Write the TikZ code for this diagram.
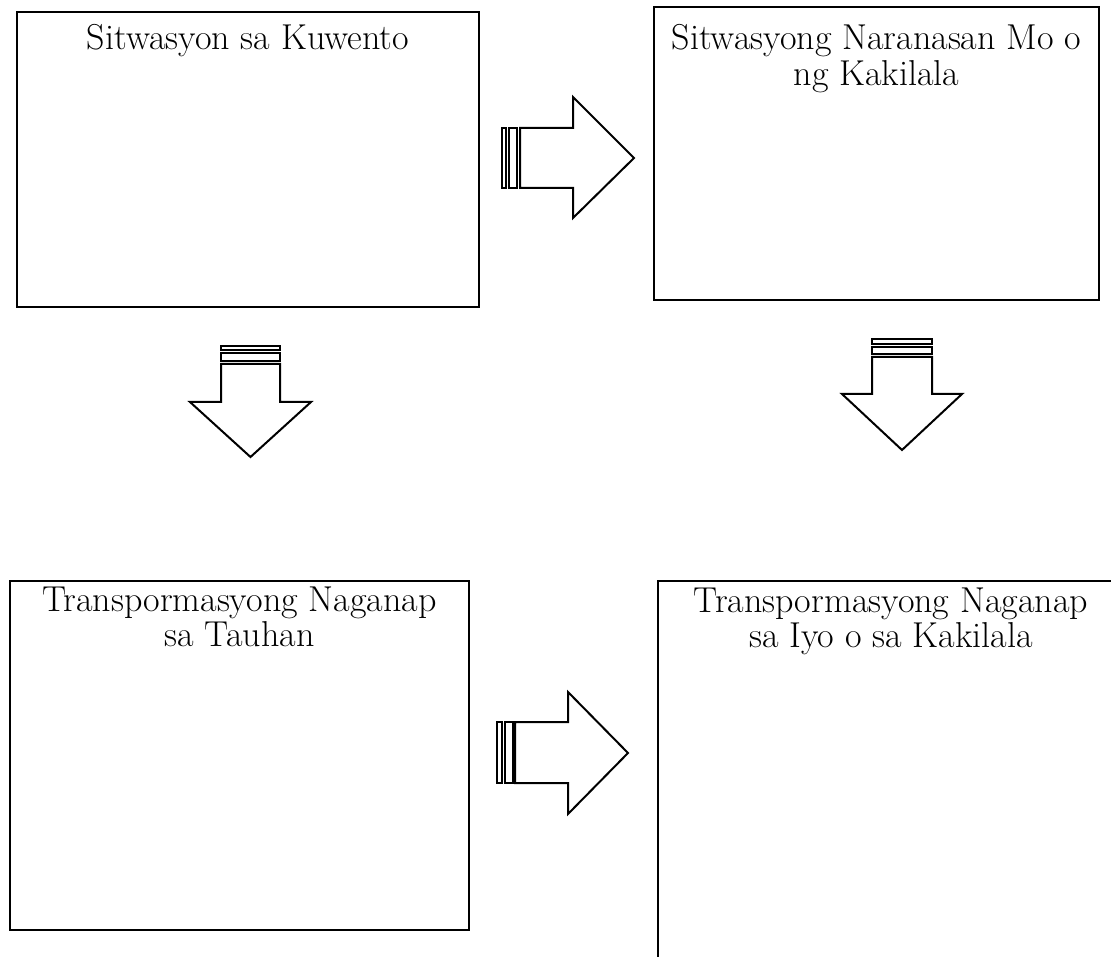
\documentclass[tikz,border=0pt]{standalone}
\begin{document}
\begin{tikzpicture}[x=1pt,y=-1pt,
  frame/.style={draw=black,line width=2pt},
  blk/.style={draw=black,line width=2pt,fill=white,line join=miter},
  lbl/.style={anchor=base,font=\fontsize{36}{37}\selectfont,inner sep=0pt}]
\useasboundingbox (0,0) rectangle (1111,957);
\clip (0,0) rectangle (1111,957);
\fill[white] (0,0) rectangle (1111,957);
% boxes
\draw[frame] (17,12) rectangle (479,307);
\node[lbl] (t1) at (248,50) {Sitwasyon sa Kuwento};
\draw[frame] (654,7) rectangle (1099,300);
\node[lbl] (t2a) at (876.5,50) {Sitwasyong Naranasan Mo o};
\node[lbl] (t2b) at (876.5,86) {ng Kakilala};
\draw[frame] (10,581) rectangle (469,930);
\node[lbl] (t3a) at (239.5,611) {Transpormasyong Naganap};
\node[lbl] (t3b) at (239.5,646) {sa Tauhan};
\draw[frame] (658,581) rectangle (1124,975);
\node[lbl] (t4a) at (891,612) {Transpormasyong Naganap};
\node[lbl] (t4b) at (891,647) {sa Iyo o sa Kakilala};
% arrow 1 (right, top)
\draw[blk] (502,128) rectangle (506,188);
\draw[blk] (509,128) rectangle (517,188);
\draw[blk] (520,128) -- (573,128) -- (573,97) -- (634,158) -- (573,218) -- (573,188) -- (520,188) -- cycle;
% arrow 4 (right, bottom)
\draw[blk] (497,722) rectangle (502,783);
\draw[blk] (505,722) rectangle (513,783);
\draw[blk] (515,722) -- (568,722) -- (568,692) -- (628,753) -- (568,814) -- (568,783) -- (515,783) -- cycle;
% arrow 2 (down, left)
\draw[blk] (221,346) rectangle (280,350);
\draw[blk] (221,353) rectangle (280,361);
\draw[blk] (221,364) -- (221,402) -- (190,402) -- (250.5,457) -- (311,402) -- (280,402) -- (280,364) -- cycle;
% arrow 3 (down, right)
\draw[blk] (872,339) rectangle (932,344);
\draw[blk] (872,347) rectangle (932,354);
\draw[blk] (872,357) -- (872,394) -- (842,394) -- (902,450) -- (962,394) -- (932,394) -- (932,357) -- cycle;
\end{tikzpicture}
\end{document}
